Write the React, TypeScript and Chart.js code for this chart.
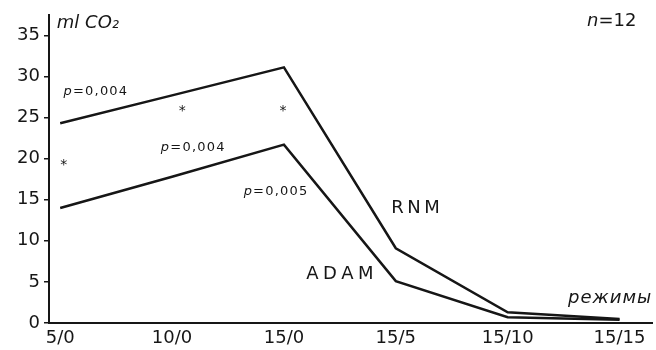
import React, { useEffect, useRef } from "react";
import { Chart, registerables } from "chart.js";

Chart.register(...registerables);

const categories = ["5/0", "10/0", "15/0", "15/5", "15/10", "15/15"];
const rnmValues = [24.3, 27.7, 31.1, 9.1, 1.3, 0.5];
const adamValues = [14.0, 17.8, 21.7, 5.1, 0.7, 0.4];
const yTicks = [0, 5, 10, 15, 20, 25, 30, 35];

type Note = { text: string; x: number; y: number; italicFirst?: boolean; italic?: boolean; size: number; spacing: number };
const notes: Note[] = [
  { text: "p=0,004", x: 0.03, y: 28.2, italicFirst: true, size: 13, spacing: 1.2 },
  { text: "p=0,004", x: 0.9, y: 21.3, italicFirst: true, size: 13, spacing: 1.2 },
  { text: "p=0,005", x: 1.64, y: 16.0, italicFirst: true, size: 13, spacing: 1.2 },
  { text: "RNM", x: 2.96, y: 13.9, size: 18, spacing: 3.5 },
  { text: "ADAM", x: 2.2, y: 5.9, size: 18, spacing: 4.5 },
  { text: "*", x: 0.0, y: 19.2, size: 14, spacing: 0 },
  { text: "*", x: 1.06, y: 25.7, size: 14, spacing: 0 },
  { text: "*", x: 1.96, y: 25.7, size: 14, spacing: 0 },
  { text: "режимы", x: 4.54, y: 3.0, italic: true, size: 18, spacing: 1 },
  { text: "ml CO₂", x: -0.03, y: 36.5, italic: true, size: 18, spacing: 0 },
  { text: "n=12", x: 4.71, y: 36.7, italicFirst: true, size: 18, spacing: 0 },
];

const INK = "#161616";
const FONT = "'DejaVu Sans', sans-serif";

const notesPlugin = {
  id: "notes",
  afterDatasetsDraw(chart: any) {
    const ctx = chart.ctx as CanvasRenderingContext2D;
    const xs = chart.scales.x;
    const ys = chart.scales.y;
    ctx.save();
    ctx.fillStyle = INK;
    ctx.textBaseline = "middle";
    ctx.textAlign = "left";
    for (const n of notes) {
      let px = xs.getPixelForValue(n.x);
      const py = ys.getPixelForValue(n.y);
      (ctx as any).letterSpacing = `${n.spacing}px`;
      if (n.italicFirst) {
        const first = n.text[0];
        const rest = n.text.slice(1);
        ctx.font = `italic ${n.size}px ${FONT}`;
        ctx.fillText(first, px, py);
        px += ctx.measureText(first).width;
        ctx.font = `${n.size}px ${FONT}`;
        ctx.fillText(rest, px, py);
      } else {
        ctx.font = `${n.italic ? "italic " : ""}${n.size}px ${FONT}`;
        ctx.fillText(n.text, px, py);
      }
    }
    (ctx as any).letterSpacing = "0px";
    ctx.restore();
  },
};

export default function App() {
  const ref = useRef<HTMLCanvasElement | null>(null);
  useEffect(() => {
    document.body.style.margin = "0";
    const canvas = ref.current!;
    const chart = new Chart(canvas, {
      type: "line",
      data: {
        datasets: [
          {
            label: "RNM",
            data: rnmValues.map((v, i) => ({ x: i, y: v })),
            borderColor: INK,
            borderWidth: 2.5,
            pointRadius: 0,
            tension: 0,
          },
          {
            label: "ADAM",
            data: adamValues.map((v, i) => ({ x: i, y: v })),
            borderColor: INK,
            borderWidth: 2.5,
            pointRadius: 0,
            tension: 0,
          },
        ],
      },
      options: {
        animation: false,
        responsive: false,
        maintainAspectRatio: false,
        layout: { padding: { top: 13, right: 4, left: 0, bottom: 0 } },
        plugins: { legend: { display: false }, tooltip: { enabled: false } },
        scales: {
          x: {
            type: "linear",
            min: -0.1,
            max: 5.29,
            afterBuildTicks: (axis: any) => {
              axis.ticks = categories.map((_, i) => ({ value: i }));
            },
            afterFit: (axis: any) => {
              axis.height = 27;
            },
            ticks: {
              callback: (v: any) => categories[Number(v)] ?? "",
              color: INK,
              font: { family: FONT, size: 18 },
              padding: 5,
              maxRotation: 0,
              autoSkip: false,
            },
            grid: { display: false, drawTicks: false },
            border: { display: true, color: INK, width: 2 },
          },
          y: {
            type: "linear",
            min: 0,
            max: 37.5,
            afterBuildTicks: (axis: any) => {
              axis.ticks = yTicks.map((v) => ({ value: v }));
            },
            afterFit: (axis: any) => {
              axis.width = 49;
            },
            ticks: {
              color: INK,
              font: { family: FONT, size: 18 },
              padding: 4,
            },
            grid: {
              display: true,
              drawOnChartArea: false,
              drawTicks: true,
              tickLength: 5,
              color: INK,
              lineWidth: 1.5,
            },
            border: { display: true, color: INK, width: 2 },
          },
        },
      },
      plugins: [notesPlugin],
    });
    return () => chart.destroy();
  }, []);
  return (
    <div style={{ position: "absolute", left: 0, top: 0, width: 656, height: 350, background: "#fff" }}>
      <canvas ref={ref} width={656} height={350} style={{ width: 656, height: 350 }} />
    </div>
  );
}
